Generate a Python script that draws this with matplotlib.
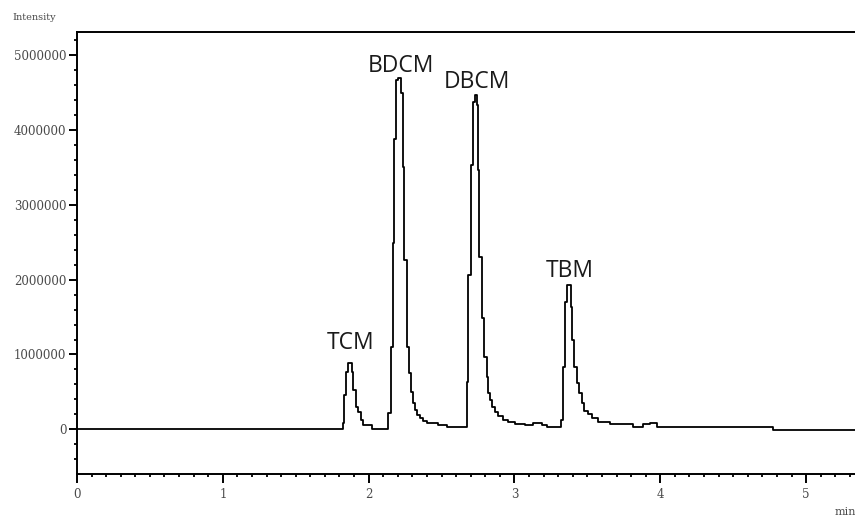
import matplotlib
matplotlib.use("Agg")
import matplotlib.pyplot as plt
from matplotlib.ticker import MultipleLocator, FuncFormatter

# Chromatogram trace (retention time in min, detector intensity), stepwise detector output
time_min = [
    0.000, 1.822, 1.831, 1.845, 1.861, 1.884, 1.895, 1.912, 1.929, 1.946,
    1.964, 2.021, 2.135, 2.151, 2.165, 2.174, 2.188, 2.204, 2.220, 2.233,
    2.245, 2.261, 2.277, 2.291, 2.302, 2.318, 2.334, 2.353, 2.371, 2.398,
    2.478, 2.536, 2.673, 2.684, 2.700, 2.714, 2.730, 2.741, 2.748, 2.759,
    2.776, 2.794, 2.810, 2.821, 2.833, 2.849, 2.867, 2.890, 2.924, 2.958,
    3.004, 3.073, 3.130, 3.187, 3.222, 3.318, 3.331, 3.347, 3.359, 3.386,
    3.397, 3.411, 3.427, 3.443, 3.462, 3.479, 3.503, 3.530, 3.575, 3.656,
    3.816, 3.884, 3.930, 3.976, 4.776, 5.600,
]
intensity = [
    0, 88000, 459000, 770000, 882000, 770000, 525000, 302000, 235000, 124000,
    57000, 0, 214000, 1104000, 2495000, 3877000, 4670000, 4697000, 4500000, 3511000,
    2263000, 1104000, 749000, 503000, 348000, 258000, 191000, 147000, 111000, 88000,
    57000, 35000, 636000, 2063000, 3533000, 4380000, 4469000, 4336000, 3467000, 2307000,
    1484000, 971000, 703000, 481000, 392000, 302000, 235000, 178000, 124000, 102000,
    67000, 57000, 88000, 57000, 27000, 124000, 837000, 1706000, 1929000, 1639000,
    1194000, 837000, 615000, 481000, 348000, 249000, 205000, 147000, 102000, 71000,
    35000, 67000, 88000, 27000, -9000, -9000,
]

# Compound labels and where they sit above their peaks
compounds = ["TCM", "BDCM", "DBCM", "TBM"]
label_time = [1.879, 2.221, 2.745, 3.377]
label_height = [1070000, 4780000, 4560000, 2030000]

y_major = [0, 1000000, 2000000, 3000000, 4000000, 5000000]
x_major = [0, 1, 2, 3, 4, 5]

W, H = 855, 517
fig = plt.figure(figsize=(W / 100, H / 100), dpi=100)
ax = fig.add_axes([77 / W, 43 / H, 0.938, (474 - 32.3) / H])

ax.plot(time_min, intensity, drawstyle="steps-post", color="black", lw=1.3)

ax.set_xlim(0, 5.5)
ax.set_ylim(-598000, 5307000)

for s in ("left", "bottom", "top"):
    ax.spines[s].set_linewidth(1.4)
ax.spines["right"].set_visible(False)

ax.set_xticks(x_major)
ax.set_yticks(y_major)
ax.xaxis.set_minor_locator(MultipleLocator(0.1))
ax.yaxis.set_minor_locator(MultipleLocator(200000))
ax.yaxis.set_major_formatter(FuncFormatter(lambda v, p: f"{int(round(v))}"))
ax.xaxis.set_major_formatter(FuncFormatter(lambda v, p: f"{int(round(v))}"))

ax.tick_params(axis="x", which="major", direction="out", length=6.5, width=1.4,
               pad=3.6, labelsize=8.5, labelcolor="#4a4a4a")
ax.tick_params(axis="x", which="minor", direction="out", length=2.3, width=1.3)
ax.tick_params(axis="y", which="major", direction="out", length=6, width=1.4,
               pad=1.7, labelsize=8.5, labelcolor="#4a4a4a")
ax.tick_params(axis="y", which="minor", direction="out", length=2.2, width=1.3)
for lab in ax.get_xticklabels() + ax.get_yticklabels():
    lab.set_family("DejaVu Serif")

for name, t, h in zip(compounds, label_time, label_height):
    ax.text(t, h, name, ha="center", va="baseline", fontsize=16.5,
            family="Open Sans", color="#1a1a1a")

fig.text(12 / W, 1 - 17 / H, "Intensity", ha="left", va="center",
         fontsize=7, family="DejaVu Serif", color="#4a4a4a")
fig.text(835 / W, 1 - 512 / H, "min", ha="left", va="center",
         fontsize=8, family="DejaVu Serif", color="#4a4a4a")

fig.savefig("out.png", dpi=100)
